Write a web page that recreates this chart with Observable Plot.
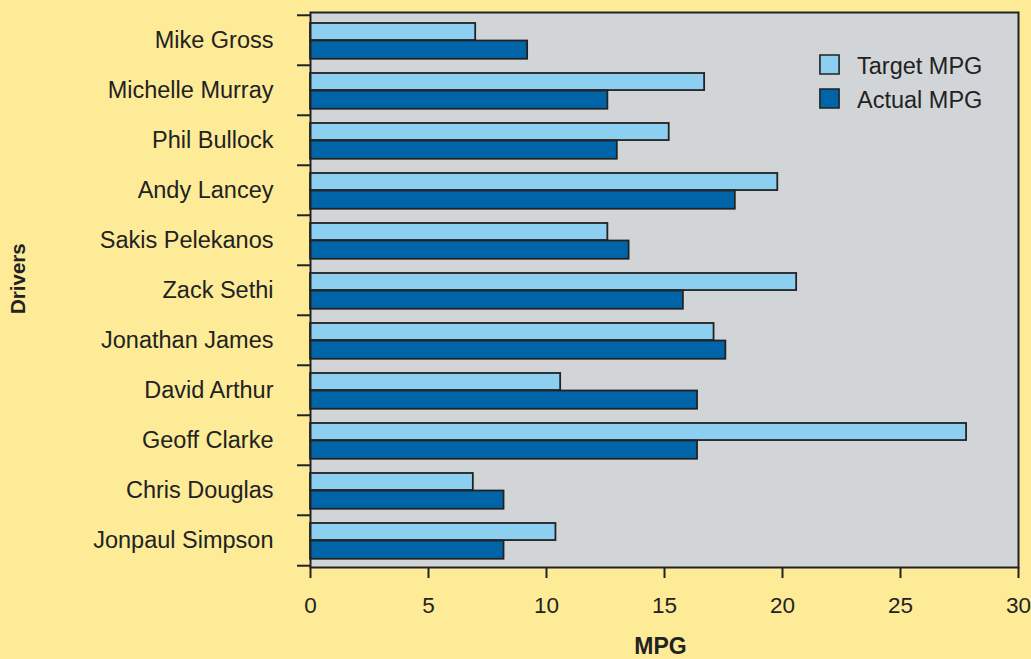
<!DOCTYPE html>
<html>
<head>
<meta charset="utf-8">
<script src="https://cdn.jsdelivr.net/npm/d3@7"></script>
<script src="https://cdn.jsdelivr.net/npm/@observablehq/plot@0.6"></script>
<style>
  html, body { margin: 0; padding: 0; background: #fdeb98; }
  #wrap { position: relative; width: 1031px; height: 659px; overflow: hidden; font-family: "Liberation Sans", Arial, Helvetica, sans-serif; }
  #legend { position: absolute; left: 817px; top: 44px; }
</style>
</head>
<body>
<div id="wrap"><div id="chart"></div><div id="legend"></div></div>
<script>
// ---- data ----
const drivers = ["Mike Gross", "Michelle Murray", "Phil Bullock", "Andy Lancey", "Sakis Pelekanos", "Zack Sethi", "Jonathan James", "David Arthur", "Geoff Clarke", "Chris Douglas", "Jonpaul Simpson"];
const targetMPG = [7.0, 16.7, 15.2, 19.8, 12.6, 20.6, 17.1, 10.6, 27.8, 6.9, 10.4];
const actualMPG = [9.2, 12.6, 13.0, 18.0, 13.5, 15.8, 17.6, 16.4, 16.4, 8.2, 8.2];
const seriesNames = ["Target MPG", "Actual MPG"];
const seriesColors = ["#8dcff0", "#0065a8"];
const xTicks = [0, 5, 10, 15, 20, 25, 30];

const targetRows = drivers.map((d, i) => ({driver: d, value: targetMPG[i], series: seriesNames[0]}));
const actualRows = drivers.map((d, i) => ({driver: d, value: actualMPG[i], series: seriesNames[1]}));

const W = 1031, H = 659, mt = 12, mb = 92, ml = 310, mr = 13;
const step = (H - mt - mb) / drivers.length;
const font = "'Liberation Sans', Arial, Helvetica, sans-serif";
const ink = "#222";

const chart = Plot.plot({
  width: W, height: H,
  marginTop: mt, marginBottom: mb, marginLeft: ml, marginRight: mr,
  style: {background: "#fdeb98", color: ink, fontFamily: font, overflow: "visible"},
  x: {domain: [0, 30]},
  y: {domain: drivers, padding: 0},
  color: {domain: seriesNames, range: seriesColors},
  marks: [
    Plot.frame({fill: "#d2d5d7"}),
    Plot.barX(targetRows, {x: "value", y: "driver", fill: "series", stroke: ink, strokeWidth: 1.8,
      insetTop: 8, insetBottom: step - 25.5}),
    Plot.barX(actualRows, {x: "value", y: "driver", fill: "series", stroke: ink, strokeWidth: 1.8,
      insetTop: 25.5, insetBottom: step - 44.2}),
    Plot.frame({stroke: ink, strokeWidth: 2}),
    Plot.axisX({ticks: xTicks, tickSize: 11, tickPadding: 19, strokeWidth: 2, fontSize: 22.5, label: null}),
    Plot.axisY({tickSize: 0, tickPadding: 37, fontSize: 23.5, label: null}),
    Plot.axisY({tickSize: 13, tickFormat: () => "", strokeWidth: 2, dy: -step / 2, label: null}),
    Plot.axisY({ticks: [drivers[drivers.length - 1]], tickSize: 13, tickFormat: () => "", strokeWidth: 2, dy: step / 2, label: null}),
    Plot.text(["MPG"], {text: d => d, frameAnchor: "bottom", dy: 86, dx: -4, fontSize: 23, fontWeight: "bold"}),
    Plot.text(["Drivers"], {text: d => d, frameAnchor: "left", rotate: -90, dx: -292, dy: 24, fontSize: 20.5, fontWeight: "bold"})
  ]
});
document.getElementById("chart").appendChild(chart);

const legend = Plot.plot({
  width: 200, height: 80,
  marginTop: 0, marginBottom: 0, marginLeft: 12, marginRight: 0,
  style: {background: "transparent", color: ink, fontFamily: font, overflow: "visible"},
  x: {axis: null, domain: [0, 1]},
  y: {axis: null, domain: seriesNames, type: "point", padding: 0, range: [20, 54.5]},
  color: {domain: seriesNames, range: seriesColors},
  marks: [
    Plot.dot(seriesNames, {y: d => d, frameAnchor: "left", symbol: "square", r: 10.8, fill: d => d, stroke: ink, strokeWidth: 1.6}),
    Plot.text(seriesNames, {y: d => d, text: d => d, frameAnchor: "left", dx: 27.5, dy: 2, textAnchor: "start", fontSize: 23.5})
  ]
});
document.getElementById("legend").appendChild(legend);
</script>
</body>
</html>
